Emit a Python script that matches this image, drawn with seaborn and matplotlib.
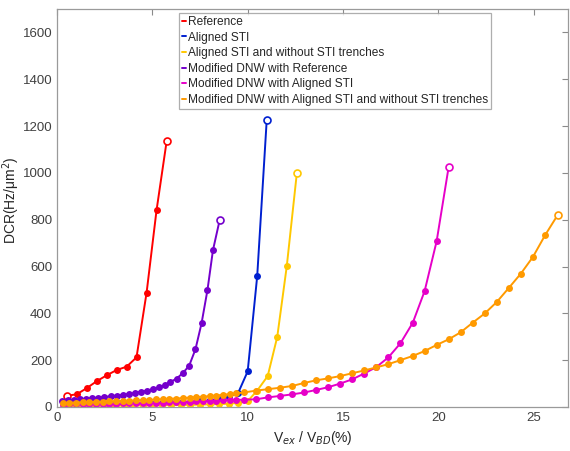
import matplotlib
matplotlib.use("Agg")
import matplotlib.pyplot as plt
from matplotlib.lines import Line2D
import pandas as pd
import seaborn as sns

# Reference
ref_x = [0.50, 1.03, 1.55, 2.08, 2.60, 3.13, 3.65, 4.17, 4.70, 5.22, 5.75]
ref_y = [48, 54, 80, 110, 135, 158, 172, 212, 489, 840, 1135]

# Aligned STI
sti_x = [0.5, 1.0, 1.5, 2.0, 2.5, 3.0, 3.5, 4.0, 4.5, 5.0, 5.5,
         6.0, 6.5, 7.0, 7.5, 8.0, 8.5, 9.0, 9.5, 10.0, 10.5, 11.0]
sti_y = [5, 6, 7, 8, 9, 10, 11, 12, 13, 14, 15,
         17, 19, 21, 24, 28, 34, 44, 60, 152, 559, 1227]

# Aligned STI and without STI trenches
nosti_x = [0.5, 1.0, 1.5, 2.0, 2.5, 3.0, 3.5, 4.0, 4.5, 5.0, 5.5, 6.0, 6.5,
           7.0, 7.5, 8.0, 8.5, 9.0, 9.5, 10.0, 10.5, 11.05, 11.55, 12.05, 12.58]
nosti_y = [3, 3, 4, 4, 5, 5, 6, 6, 7, 7, 8, 8, 9,
           9, 10, 11, 12, 14, 17, 25, 70, 132, 299, 601, 1000]

# Modified DNW with Reference
dnw_ref_x = [0.25, 0.57, 0.89, 1.21, 1.53, 1.85, 2.17, 2.49, 2.81, 3.13, 3.45, 3.77, 4.09, 4.41,
             4.73, 5.04, 5.36, 5.65, 5.95, 6.27, 6.61, 6.93, 7.26, 7.58, 7.89, 8.18, 8.53]
dnw_ref_y = [27, 29, 31, 33, 35, 38, 40, 43, 46, 49, 52, 56, 60, 65,
             70, 77, 84, 94, 107, 121, 146, 176, 246, 357, 499, 670, 798]

# Modified DNW with Aligned STI
dnw_sti_x = [0.30, 0.65, 1.00, 1.35, 1.70, 2.05, 2.40, 2.75, 3.10, 3.45, 3.80, 4.15, 4.50, 4.85,
             5.20, 5.55, 5.90, 6.25, 6.60, 6.95, 7.30, 7.65, 8.00, 8.35, 8.70, 9.05, 9.40, 9.80,
             10.45, 11.06, 11.68, 12.34, 12.98, 13.60, 14.20, 14.85, 15.48, 16.11, 16.74,
             17.38, 18.01, 18.66, 19.28, 19.91, 20.54]
dnw_sti_y = [10, 11, 11, 12, 12, 13, 13, 14, 14, 15, 15, 16, 17, 17,
             18, 19, 20, 21, 22, 23, 24, 25, 26, 27, 28, 29, 30, 31,
             33, 41, 47, 54, 62, 73, 84, 100, 118, 143, 170,
             212, 272, 360, 495, 708, 1025]

# Modified DNW with Aligned STI and without STI trenches
dnw_nosti_x = [0.30, 0.65, 1.00, 1.35, 1.70, 2.05, 2.40, 2.75, 3.10, 3.45, 3.80, 4.15, 4.50, 4.85,
               5.20, 5.55, 5.90, 6.25, 6.60, 6.95, 7.30, 7.65, 8.00, 8.35, 8.70, 9.05, 9.40, 9.80,
               10.45, 11.06, 11.68, 12.34, 12.98, 13.60, 14.20, 14.85, 15.48, 16.11, 16.74,
               17.38, 18.01, 18.66, 19.28, 19.91, 20.54, 21.17, 21.80, 22.44, 23.07, 23.70,
               24.33, 24.96, 25.60, 26.25]
dnw_nosti_y = [17, 18, 19, 20, 21, 22, 23, 24, 25, 26, 27, 28, 29, 30,
               32, 33, 35, 36, 38, 40, 42, 44, 46, 49, 52, 55, 58, 62,
               70, 76, 82, 90, 103, 114, 122, 132, 144, 156, 169,
               183, 200, 218, 239, 265, 289, 319, 360, 400, 449, 509,
               570, 641, 734, 819]

labels = ["Reference", "Aligned STI", "Aligned STI and without STI trenches",
          "Modified DNW with Reference", "Modified DNW with Aligned STI",
          "Modified DNW with Aligned STI and without STI trenches"]
colors = ["#FF0000", "#0020D0", "#FFC800", "#7400CC", "#E600C8", "#FF9A00"]

series = [(ref_x, ref_y), (sti_x, sti_y), (nosti_x, nosti_y),
          (dnw_ref_x, dnw_ref_y), (dnw_sti_x, dnw_sti_y), (dnw_nosti_x, dnw_nosti_y)]

frames = []
for name, (xs, ys) in zip(labels, series):
    frames.append(pd.DataFrame({"x": xs, "y": ys, "device": name}))
df = pd.concat(frames, ignore_index=True)

sns.set_theme(style="white")
plt.rcParams["font.family"] = ["Liberation Sans", "DejaVu Sans"]

fig = plt.figure(figsize=(5.7, 4.51), dpi=100)
ax = fig.add_axes([0.1, 0.0976, 0.8965, 0.8824])

for name, color in zip(labels, colors):
    sub = df[df["device"] == name]
    sns.lineplot(data=sub, x="x", y="y", color=color, lw=1.4, marker="o",
                 markersize=5, markeredgewidth=0, sort=False, estimator=None,
                 ax=ax, legend=False)
    # open markers at the curve ends
    ends = sub.iloc[[-1]] if name != "Reference" else sub.iloc[[0, -1]]
    ax.plot(ends["x"], ends["y"], "o", ms=5, mfc="white", mec=color, mew=1.2)

ax.set_xlim(0, 26.8)
ax.set_ylim(0, 1700)
ax.set_xticks([0, 5, 10, 15, 20, 25])
ax.set_yticks(range(0, 1601, 200))
ax.tick_params(direction="in", length=4, width=0.8, colors="#8a8a8a",
               labelcolor="#404040", labelsize=9.5, top=True, right=True)
for s in ax.spines.values():
    s.set_color("#9a9a9a")
    s.set_linewidth(0.9)

ax.set_xlabel("V$_{ex}$ / V$_{BD}$(%)", fontsize=10, color="#262626", labelpad=4)
ax.set_ylabel("DCR(Hz/\u03bcm$^2$)", fontsize=10, color="#262626")
ax.yaxis.set_label_coords(-0.068, 0.52)

handles = [Line2D([0], [0], color=c, lw=1.4) for c in colors]
leg = ax.legend(handles, labels, loc="upper left", bbox_to_anchor=(0.238, 0.99),
                fontsize=8.6, handlelength=0.35, handletextpad=0.15,
                labelspacing=0.3, borderpad=0.25, borderaxespad=0,
                frameon=True, fancybox=False, edgecolor="#9a9a9a")
leg.get_frame().set_linewidth(0.9)

fig.savefig("out.png", dpi=100)
